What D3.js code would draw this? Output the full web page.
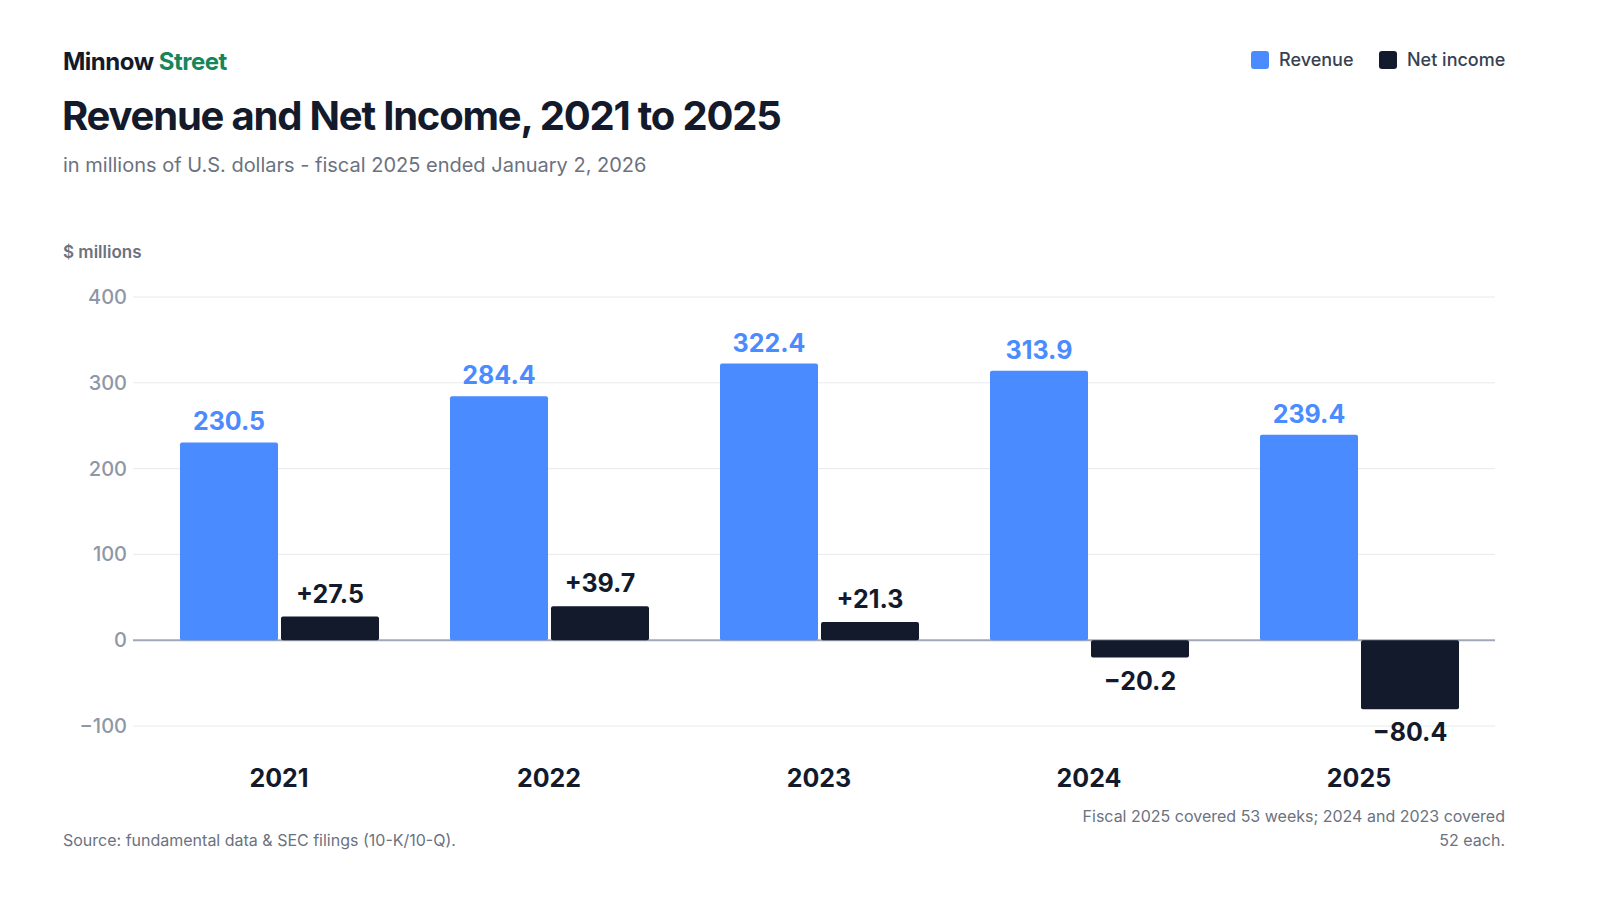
<!DOCTYPE html>
<html>
<head>
<script src="https://cdn.jsdelivr.net/npm/d3@7"></script>
<style>
body{margin:0;background:#fff;font-family:Inter,"Noto Sans",sans-serif;}
</style>
</head>
<body>
<svg id="chart" width="1600" height="900"></svg>
<script>
var years = ["2021","2022","2023","2024","2025"];
var revenue = [230.5, 284.4, 322.4, 313.9, 239.4];
var netIncome = [27.5, 39.7, 21.3, -20.2, -80.4];
var yTicks = [-100, 0, 100, 200, 300, 400];

var svg = d3.select("#chart");
var blue = "#4a8cff", dark = "#121a2b", grey = "#6b7280";

// header
var brand = svg.append("text").attr("x", 63).attr("y", 70).attr("font-size", 24).attr("font-weight", 700).attr("letter-spacing", -0.5);
brand.append("tspan").attr("fill", dark).text("Minnow ");
brand.append("tspan").attr("fill", "#17855a").text("Street");
svg.append("text").attr("x", 62).attr("y", 130).attr("font-size", 40).attr("font-weight", 700).attr("letter-spacing", -1.2)
  .attr("fill", dark).text("Revenue and Net Income, 2021 to 2025");
svg.append("text").attr("x", 63).attr("y", 172).attr("font-size", 20).attr("fill", grey)
  .text("in millions of U.S. dollars - fiscal 2025 ended January 2, 2026");
svg.append("text").attr("x", 63).attr("y", 258).attr("font-size", 17).attr("font-weight", 600).attr("fill", grey).text("$ millions");

// legend
var legend = [["Revenue", blue, 1251], ["Net income", dark, 1379]];
legend.forEach(function(d){
  svg.append("rect").attr("x", d[2]).attr("y", 51).attr("width", 18).attr("height", 18).attr("rx", 3).attr("fill", d[1]);
  svg.append("text").attr("x", d[2] + 28).attr("y", 66).attr("font-size", 18).attr("font-weight", 500).attr("fill", "#374151").text(d[0]);
});

var y = d3.scaleLinear().domain([-100, 400]).range([726, 297]);
var x = d3.scaleBand().domain(years).range([144, 1494]);
var left = 133, right = 1495;

svg.append("g").selectAll("line").data(yTicks).enter().append("line")
  .attr("x1", left).attr("x2", right).attr("y1", y).attr("y2", y)
  .attr("stroke", function(d){ return d === 0 ? "#a0a8b8" : "#e8eaee"; })
  .attr("stroke-width", function(d){ return d === 0 ? 2 : 1; });
svg.append("g").selectAll("text").data(yTicks).enter().append("text")
  .attr("x", 127).attr("y", function(d){ return y(d) + 7; }).attr("text-anchor", "end")
  .attr("font-size", 20).attr("font-weight", 500).attr("fill", "#8f97a6")
  .text(function(d){ return d < 0 ? "\u2212" + Math.abs(d) : d; });

var bw = 98;
var g = svg.append("g");
g.selectAll(".rev").data(years).enter().append("rect")
  .attr("x", function(d){ return x(d) + 36; }).attr("width", bw)
  .attr("y", function(d, i){ return y(revenue[i]); })
  .attr("height", function(d, i){ return y(0) - y(revenue[i]); })
  .attr("rx", 2).attr("fill", blue);
g.selectAll(".ni").data(years).enter().append("rect")
  .attr("x", function(d){ return x(d) + 137; }).attr("width", bw)
  .attr("y", function(d, i){ return y(Math.max(0, netIncome[i])); })
  .attr("height", function(d, i){ return Math.abs(y(0) - y(netIncome[i])); })
  .attr("rx", 2).attr("fill", dark);

g.selectAll(".revl").data(years).enter().append("text")
  .attr("x", function(d){ return x(d) + 36 + bw / 2; })
  .attr("y", function(d, i){ return y(revenue[i]) - 12; })
  .attr("text-anchor", "middle").attr("font-size", 25).attr("font-weight", 700).attr("fill", blue)
  .text(function(d, i){ return revenue[i].toFixed(1); });
g.selectAll(".nil").data(years).enter().append("text")
  .attr("x", function(d){ return x(d) + 137 + bw / 2; })
  .attr("y", function(d, i){ var v = netIncome[i]; return v >= 0 ? y(v) - 14 : y(v) + 32; })
  .attr("text-anchor", "middle").attr("font-size", 25).attr("font-weight", 700).attr("fill", dark)
  .text(function(d, i){ var v = netIncome[i]; return (v >= 0 ? "+" : "\u2212") + Math.abs(v).toFixed(1); });

svg.append("g").selectAll("text").data(years).enter().append("text")
  .attr("x", function(d){ return x(d) + x.bandwidth() / 2; }).attr("y", 787)
  .attr("text-anchor", "middle").attr("font-size", 25).attr("font-weight", 700).attr("fill", dark)
  .text(function(d){ return d; });

// footer
svg.append("text").attr("x", 63).attr("y", 846).attr("font-size", 16).attr("fill", grey)
  .text("Source: fundamental data & SEC filings (10-K/10-Q).");
svg.append("text").attr("x", 1505).attr("y", 822).attr("text-anchor", "end").attr("font-size", 16).attr("fill", grey)
  .text("Fiscal 2025 covered 53 weeks; 2024 and 2023 covered");
svg.append("text").attr("x", 1505).attr("y", 846).attr("text-anchor", "end").attr("font-size", 16).attr("fill", grey)
  .text("52 each.");
</script>
</body>
</html>
